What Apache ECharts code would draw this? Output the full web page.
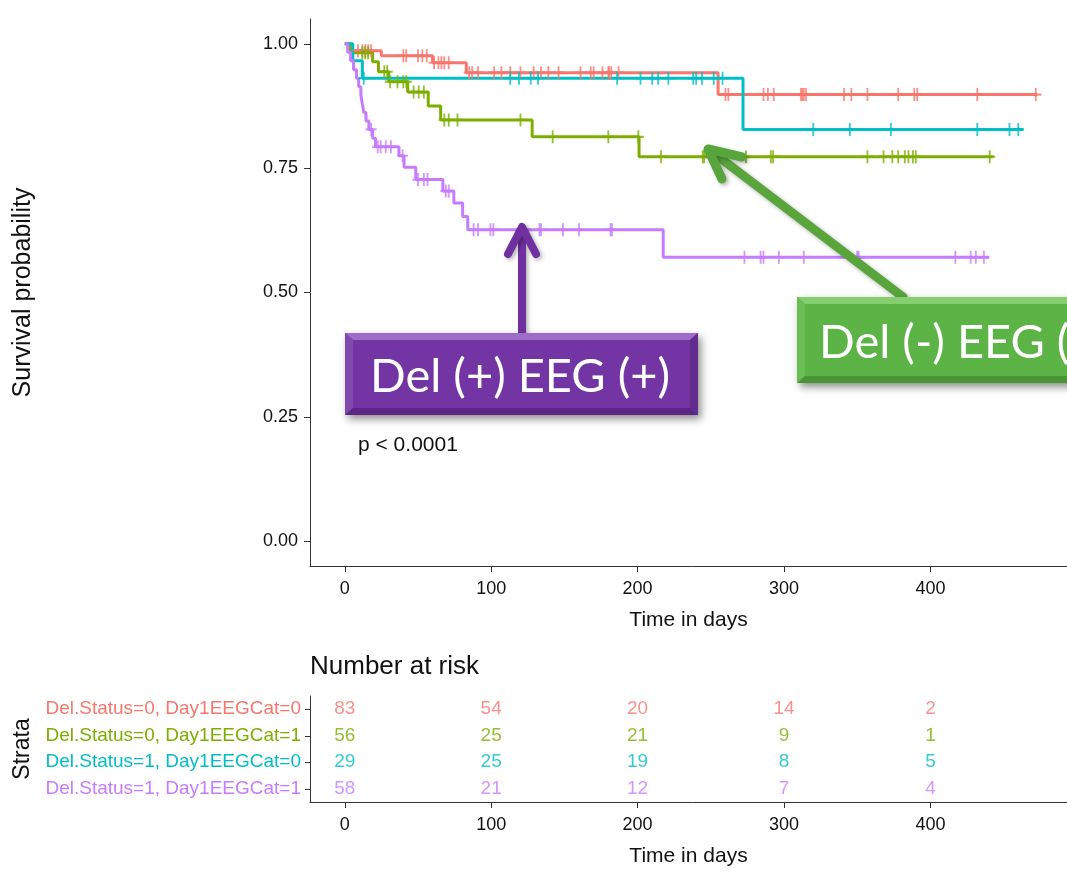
<!DOCTYPE html>
<html>
<head>
<meta charset="utf-8">
<script src="https://cdn.jsdelivr.net/npm/echarts@6/dist/echarts.min.js"></script>
<style>
  html, body { margin: 0; padding: 0; background: #ffffff; overflow: hidden; }
  /* the plot runs a little past the right edge of the window */
  #chart { width: 1110px; height: 873px; }
</style>
</head>
<body>
<div id="chart"></div>
<script>
// ---- strata ----
const strata = [
  'Del.Status=0, Day1EEGCat=0',
  'Del.Status=0, Day1EEGCat=1',
  'Del.Status=1, Day1EEGCat=0',
  'Del.Status=1, Day1EEGCat=1'
];
const strataColors = ['#F8766D', '#7CAE00', '#00BFC4', '#C77CFF'];

// ---- Kaplan-Meier steps: event times (days) and survival just after each event ----
const eventTimes00 = [4, 25, 60, 83, 255];
const survival00   = [0.986, 0.976, 0.962, 0.942, 0.898];
const censor00 = [9, 12, 14, 16, 18, 40, 42, 50, 53, 56, 61, 64, 66, 68, 71, 85, 87, 91, 102, 107, 113, 120, 129, 134, 139,
  146, 161, 168, 170, 176, 180, 180.5, 182, 187, 260, 262, 286, 289, 293, 311.5, 312.5, 313.5, 315, 341, 346, 357, 378, 389, 391, 432, 472];
const lastTime00 = 473;

const eventTimes01 = [4, 19, 23, 30, 43, 57, 65.5, 128, 201];
const survival01   = [0.982, 0.964, 0.944, 0.924, 0.903, 0.875, 0.847, 0.813, 0.773];
const censor01 = [12, 14, 16, 27, 29, 31, 36, 40, 42, 47, 50.5, 54, 68, 71, 77, 120, 142, 180, 200.5, 216, 244.5, 245.5, 274, 291, 292.5,
  357, 368, 374, 378, 382.5, 385, 388, 390, 440.5];
const lastTime01 = 443;

const eventTimes10 = [5.5, 12, 272];
const survival10   = [0.966, 0.931, 0.828];
const censor10 = [13, 113, 119, 127, 132, 186, 202, 210, 214, 221, 238, 240, 244, 252, 258, 320, 345, 373, 432, 454, 460];
const lastTime10 = 463.5;

const eventTimes11 = [2, 4, 6, 8, 9.5, 11, 12, 13, 14.5, 16.5, 19, 21, 37, 40.5, 48.5, 67, 74.5, 80.5, 84, 217.5];
const survival11   = [0.983, 0.966, 0.948, 0.931, 0.914, 0.897, 0.879, 0.862, 0.845, 0.828, 0.810, 0.793,
  0.775, 0.752, 0.727, 0.704, 0.680, 0.653, 0.626, 0.571];
const censor11 = [18, 22.5, 24.5, 28, 31.5, 39.5, 50, 54, 56.5, 69, 71, 88, 91, 99.5, 101.5, 133, 134, 149, 160, 181.5, 182.5,
  273, 284, 286, 296.5, 313.5, 350, 351, 417, 427.5, 431, 436.5];
const lastTime11 = 440;

// ---- number at risk ----
const riskTimes = [0, 100, 200, 300, 400];
const atRisk00 = [83, 54, 20, 14, 2];
const atRisk01 = [56, 25, 21, 9, 1];
const atRisk10 = [29, 25, 19, 8, 5];
const atRisk11 = [58, 21, 12, 7, 4];

// ---- axis ticks and texts ----
const timeTicks = [0, 100, 200, 300, 400];
const probTicks = [0, 0.25, 0.5, 0.75, 1];
const pValueText = 'p < 0.0001';
const calloutPurple = 'Del (+) EEG (+)';
const calloutGreen = 'Del (-) EEG (+)';

// ---- helpers ----
function stepPoints(times, surv, last) {
  const pts = [[0, 1]];
  times.forEach((t, i) => pts.push([t, surv[i]]));
  pts.push([last, surv[surv.length - 1]]);
  return pts;
}
function survivalAt(times, surv, t) {
  let s = 1;
  for (let i = 0; i < times.length; i++) if (times[i] <= t) s = surv[i];
  return s;
}

const curves = [
  { times: eventTimes00, surv: survival00, censor: censor00, last: lastTime00 },
  { times: eventTimes01, surv: survival01, censor: censor01, last: lastTime01 },
  { times: eventTimes10, surv: survival10, censor: censor10, last: lastTime10 },
  { times: eventTimes11, surv: survival11, censor: censor11, last: lastTime11 }
];
const riskRows = [atRisk00, atRisk01, atRisk10, atRisk11];

const baseFont = 'Liberation Sans, Arial, sans-serif';
const calloutFont = '47px Lato, "Open Sans", sans-serif';
const axisColor = '#333333';
const plusSymbol = 'path://M5,0 L7,0 L7,5 L12,5 L12,7 L7,7 L7,12 L5,12 L5,7 L0,7 L0,5 L5,5 Z';

const series = [];
curves.forEach((c, i) => {
  series.push({
    type: 'line', xAxisIndex: 0, yAxisIndex: 0,
    step: 'end', showSymbol: false, symbol: 'none',
    data: stepPoints(c.times, c.surv, c.last),
    lineStyle: { color: strataColors[i], width: 3 },
    itemStyle: { color: strataColors[i] },
    z: 3, silent: true
  });
  series.push({
    type: 'scatter', xAxisIndex: 0, yAxisIndex: 0,
    symbol: plusSymbol, symbolSize: [11, 13],
    data: c.censor.map(t => [t, survivalAt(c.times, c.surv, t)]),
    itemStyle: { color: strataColors[i] },
    z: 4, silent: true
  });
});
riskRows.forEach((row, i) => {
  series.push({
    type: 'scatter', xAxisIndex: 1, yAxisIndex: 1,
    symbolSize: 1, itemStyle: { color: 'rgba(0,0,0,0)' },
    data: riskTimes.map((t, j) => [t, strata[i], row[j]]),
    label: {
      show: true, position: 'inside',
      formatter: p => String(p.value[2]),
      color: strataColors[i], fontSize: 19, fontFamily: baseFont
    },
    silent: true
  });
});

const xRange = { min: -23.75, max: 498.75 };

const chart = echarts.init(document.getElementById('chart'), null, { renderer: 'canvas' });
chart.setOption({
  backgroundColor: '#ffffff',
  animation: false,
  grid: [
    { left: 310, top: 19, width: 765, height: 547 },
    { left: 310, top: 696, width: 765, height: 106 }
  ],
  xAxis: [
    {
      type: 'value', gridIndex: 0, min: xRange.min, max: xRange.max,
      axisLine: { show: true, onZero: false, lineStyle: { color: axisColor, width: 1 } },
      axisTick: { show: true, length: 6, customValues: timeTicks, lineStyle: { color: axisColor } },
      axisLabel: { customValues: timeTicks, color: '#111', fontSize: 18, fontFamily: baseFont, margin: 14 },
      splitLine: { show: false },
      name: 'Time in days', nameLocation: 'middle', nameGap: 44,
      nameTextStyle: { color: '#111', fontSize: 21, fontFamily: baseFont, padding: [0, 8, 0, 0] }
    },
    {
      type: 'value', gridIndex: 1, min: xRange.min, max: xRange.max,
      axisLine: { show: true, onZero: false, lineStyle: { color: axisColor, width: 1 } },
      axisTick: { show: true, length: 6, customValues: timeTicks, lineStyle: { color: axisColor } },
      axisLabel: { customValues: timeTicks, color: '#111', fontSize: 18, fontFamily: baseFont, margin: 14 },
      splitLine: { show: false },
      name: 'Time in days', nameLocation: 'middle', nameGap: 44,
      nameTextStyle: { color: '#111', fontSize: 21, fontFamily: baseFont, padding: [0, 8, 0, 0] }
    }
  ],
  yAxis: [
    {
      type: 'value', gridIndex: 0, min: -0.05, max: 1.05,
      axisLine: { show: true, onZero: false, lineStyle: { color: axisColor, width: 1 } },
      axisTick: { show: true, length: 6, customValues: probTicks, lineStyle: { color: axisColor } },
      axisLabel: { customValues: probTicks, formatter: v => v.toFixed(2), color: '#111', fontSize: 18, fontFamily: baseFont, margin: 12 },
      splitLine: { show: false },
      name: 'Survival probability', nameLocation: 'middle', nameGap: 274,
      nameTextStyle: { color: '#111', fontSize: 25, fontFamily: baseFont }
    },
    {
      type: 'category', gridIndex: 1, data: strata, inverse: true,
      axisLine: { show: true, onZero: false, lineStyle: { color: axisColor, width: 1 } },
      axisTick: { show: true, length: 5, alignWithLabel: true, lineStyle: { color: axisColor } },
      axisLabel: {
        color: (value, index) => strataColors[strata.indexOf(value)],
        fontSize: 19, fontFamily: baseFont, margin: 9
      },
      splitLine: { show: false },
      name: 'Strata', nameLocation: 'middle', nameGap: 274,
      nameTextStyle: { color: '#111', fontSize: 23, fontFamily: baseFont }
    }
  ],
  series: series,
  graphic: [
    // p-value
    { type: 'text', left: 358, top: 435, z: 50,
      style: { text: pValueText, fill: '#111', font: '21px ' + baseFont } },
    // risk table title
    { type: 'text', left: 310, top: 654, z: 50,
      style: { text: 'Number at risk', fill: '#111', font: '26px ' + baseFont } },

    // purple callout arrow
    { type: 'line', z: 90, shape: { x1: 522, y1: 334, x2: 522, y2: 229 },
      style: { stroke: '#7030A0', lineWidth: 8, lineCap: 'round',
               shadowBlur: 4, shadowOffsetX: 2, shadowOffsetY: 2, shadowColor: 'rgba(0,0,0,0.3)' } },
    { type: 'polyline', z: 90, shape: { points: [[508, 254], [522, 227], [536, 254]] },
      style: { stroke: '#7030A0', fill: null, lineWidth: 8, lineCap: 'round', lineJoin: 'round',
               shadowBlur: 4, shadowOffsetX: 2, shadowOffsetY: 2, shadowColor: 'rgba(0,0,0,0.3)' } },
    // purple callout box
    { type: 'rect', z: 91, shape: { x: 345, y: 333, width: 353, height: 82 },
      style: { fill: '#7335A3', shadowBlur: 8, shadowOffsetX: 3, shadowOffsetY: 4, shadowColor: 'rgba(0,0,0,0.45)' } },
    { type: 'polygon', z: 92, shape: { points: [[345, 333], [698, 333], [690, 340], [353, 340]] },
      style: { fill: '#9C6CC6' } },
    { type: 'polygon', z: 92, shape: { points: [[345, 333], [353, 340], [353, 408], [345, 415]] },
      style: { fill: '#8049AE' } },
    { type: 'polygon', z: 92, shape: { points: [[698, 333], [690, 340], [690, 408], [698, 415]] },
      style: { fill: '#642C8F' } },
    { type: 'polygon', z: 92, shape: { points: [[345, 415], [353, 408], [690, 408], [698, 415]] },
      style: { fill: '#5B2685' } },
    { type: 'text', z: 93, x: 520, y: 377,
      style: { text: calloutPurple, fill: '#ffffff', font: calloutFont,
               align: 'center', verticalAlign: 'middle' } },

    // green callout arrow
    { type: 'line', z: 90, shape: { x1: 903, y1: 297, x2: 711, y2: 151 },
      style: { stroke: '#58A53C', lineWidth: 9, lineCap: 'round',
               shadowBlur: 4, shadowOffsetX: 2, shadowOffsetY: 2, shadowColor: 'rgba(0,0,0,0.3)' } },
    { type: 'polyline', z: 90, shape: { points: [[742, 157], [708, 149], [722, 179]] },
      style: { stroke: '#58A53C', fill: null, lineWidth: 9, lineCap: 'round', lineJoin: 'round',
               shadowBlur: 4, shadowOffsetX: 2, shadowOffsetY: 2, shadowColor: 'rgba(0,0,0,0.3)' } },
    // green callout box
    { type: 'rect', z: 91, shape: { x: 797, y: 297, width: 360, height: 86 },
      style: { fill: '#5CB346', shadowBlur: 8, shadowOffsetX: 3, shadowOffsetY: 4, shadowColor: 'rgba(0,0,0,0.45)' } },
    { type: 'polygon', z: 92, shape: { points: [[797, 297], [1157, 297], [1149, 304], [805, 304]] },
      style: { fill: '#86CF6E' } },
    { type: 'polygon', z: 92, shape: { points: [[797, 297], [805, 304], [805, 376], [797, 383]] },
      style: { fill: '#6BBE55' } },
    { type: 'polygon', z: 92, shape: { points: [[797, 383], [805, 376], [1149, 376], [1157, 383]] },
      style: { fill: '#4A9436' } },
    { type: 'text', z: 93, x: 819, y: 343,
      style: { text: calloutGreen, fill: '#ffffff', font: calloutFont,
               align: 'left', verticalAlign: 'middle' } }
  ]
});
</script>
</body>
</html>
